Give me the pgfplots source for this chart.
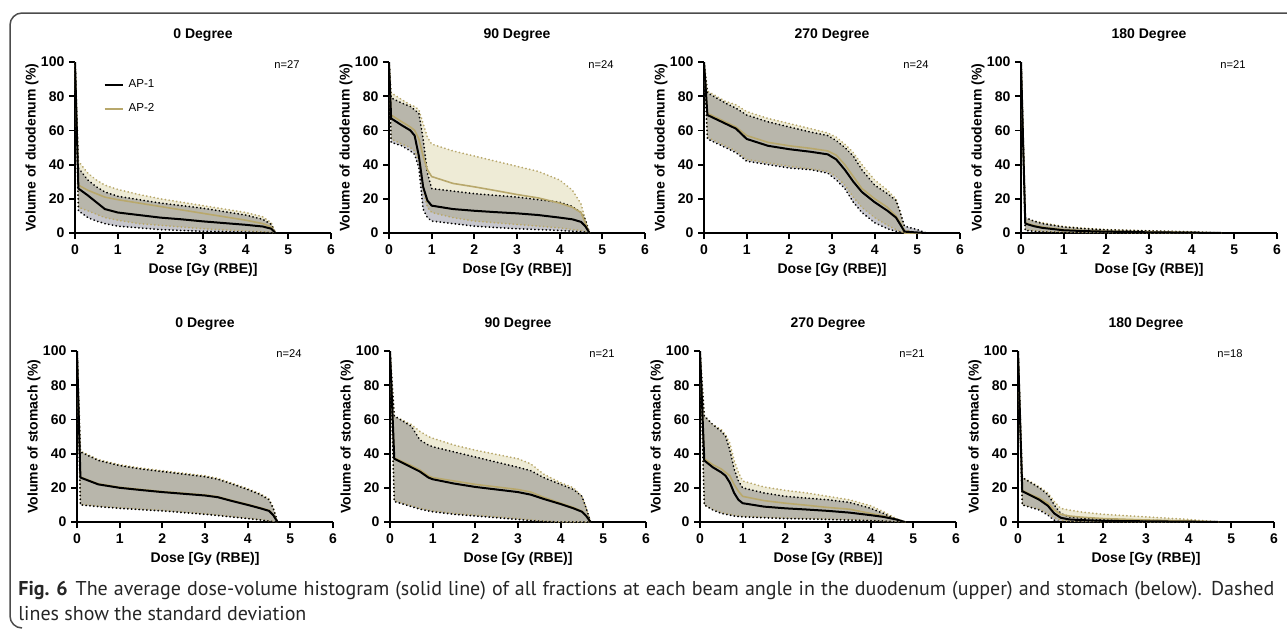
\documentclass[border=0pt]{standalone}
\usepackage{fontspec}
\setmainfont{Liberation Sans}
\newfontfamily\capfont{PT Sans}
\usepackage{pgfplots}
\pgfplotsset{compat=1.18}
\usepackage{pgfplotstable}

\definecolor{ap2line}{RGB}{184,168,108}
\definecolor{ap2fill}{RGB}{238,235,214}
\definecolor{ap1fill}{RGB}{198,198,204}
\definecolor{framecol}{gray}{0.3}

% columns: dose, AP-1 mean/upper/lower, AP-2 mean/upper/lower
\pgfplotstableread{
x     m1   u1   l1   m2   u2   l2
0     100  100  100  100  100  100
0.08  26   38   13   28   42   15
0.3   22   31   9    25   35   13
0.5   18   27   7    23   31   11
0.7   14   24   5.5  21   28   9
1.0   12   21.5 4    19.5 25.5 7.5
1.5   10.5 19.5 3    17.5 22.5 5.5
2.0   9    17.5 2    15.5 20   4.5
2.5   8    16   1.5  13.5 18   3.5
3.0   6.8  14.5 1    11.5 16   2.5
3.5   5.8  12.5 0.8  9.5  14   1.8
4.0   4.8  10.5 0.5  7.5  12   1.2
4.4   3.8  8    0.3  5.5  9.5  0.7
4.6   2.5  5    0.2  3.5  6    0.4
4.7   0    0    0    0    0    0
}\duoA

\pgfplotstableread{
x     m1   u1   l1   m2   u2   l2
0     100  100  100  100  100  100
0.05  67   79   53   69   82   55
0.3   63   76   51   65   78   52
0.5   60   74   48   62   75   50
0.6   57   72   46   60   74   48
0.7   45   70   38   55   72   42
0.8   27   55   14   45   64   25
0.9   19   35   9    37   56   15
1.0   16   26   7    33   52   12
1.5   14   24.5 5.5  29   48   9
2.0   13   23   4    27   45   7
2.5   12.2 22   3.2  24.8 42   6
3.0   11.5 21   2.5  22.5 39   5
3.5   10.5 19.5 2    20.5 36   4
4.0   9    18   1.5  17.5 31   3
4.3   8    15.5 1    15   25   2
4.5   6.5  12   0.8  12   17   1.5
4.6   4    8    0.5  6    8    0.8
4.7   0    0    0    0    0    0
}\duoB

\pgfplotstableread{
x     m1   u1   l1   m2   u2   l2
0     100  100  100  100  100  100
0.08  69   82   55   70   83   56
0.5   64   76   50   65   77   51
0.75  61   73   47   62   75   48
1.0   55   69   42   57   71   43
1.5   51   65   40   53   67   41
2.0   49   62   38   51   64   39
2.5   47.5 59   37   49.5 61   37.5
2.9   46   57   35   48   58.5 36
3.1   43   54   31   45.5 56   33
3.3   37   50   26   40   52   28
3.5   30   45   18   33   47   21
3.7   24   37   12   26   40   15
4.0   18   28   6    20   31   9
4.3   13   23   2.5  15   25   4.5
4.5   9    19   1    10   20   2
4.6   5    12   0.5  6    12   1
4.7   0.8  4    0    0    2    0
5.0   0.3  2    0    0    0    0
5.2   0    0    0    0    0    0
}\duoC

\pgfplotstableread{
x     m1   u1   l1   m2   u2   l2
0     100  100  100  100  100  100
0.1   5.5  9    1.5  6    8.5  2
0.3   4    7    1    4.5  7    1.5
0.5   3    5.5  0.6  3.5  6    1
1.0   1.6  3.5  0.2  2    3.8  0.5
1.5   1.1  2.5  0.1  1.4  2.8  0.3
2.0   0.8  1.8  0    1    2    0.2
3.0   0.4  1.2  0    0.6  1.3  0
4.0   0.2  0.6  0    0.3  0.7  0
4.7   0    0    0    0    0    0
}\duoD

\pgfplotstableread{
x     m1   u1   l1   m2   u2   l2
0     100  100  100  100  100  100
0.08  26   41   10   26.3 41.5 10.3
0.5   22   36   9    22.3 36.5 9.3
1.0   20   33   8    20.3 33.5 8.3
1.5   18.7 31   7.2  19   31.5 7.5
2.0   17.5 29.5 6.5  17.8 30   6.8
2.5   16.5 28   5.5  16.8 28.5 5.8
3.0   15.5 26.5 4.5  15.8 27   4.8
3.3   14.5 25   3.8  14.8 25.5 4
3.6   12.5 22.5 3    12.8 23   3.3
4.0   10   19   2    10.3 19.5 2.2
4.3   8    16   1.2  8.3  16.5 1.4
4.5   6.5  13   0.5  6.8  13.5 0.7
4.6   4    8    0.2  4.3  8.5  0.3
4.7   0    0    0    0    0    0
}\stoA

\pgfplotstableread{
x     m1   u1   l1   m2   u2   l2
0     100  100  100  100  100  100
0.1   37   62   12   37.5 62   12.5
0.5   32   56   9    33   57   9.5
0.7   29.5 48   7.5  30.5 53   8
0.9   26   45   6.5  27   50   7
1.0   25   44   6    26   49   6.5
1.5   22.5 41   4.5  24   45   5
2.0   20.5 38   3.5  22   42   4
2.5   19   35   2.5  20.5 39.5 3
3.0   17.5 32   1.5  19   37   2
3.3   16   30   0.8  17.5 34   1.2
3.6   13.5 26   0.3  14.5 28   0.5
4.0   10.5 22   0    11   23   0
4.3   8    19   0    8.5  20   0
4.5   6    15   0    6.3  15   0
4.6   3.5  8    0    3.7  8    0
4.7   0    0    0    0    0    0
}\stoB

\pgfplotstableread{
x     m1   u1   l1   m2   u2   l2
0     100  100  100  100  100  100
0.1   36   62   10   37   62   10
0.3   32   57   7    33.5 57   7.5
0.5   29   53   5    31   54   5.5
0.6   27   50   4.5  29   51   5
0.7   23   42   4    27   46   4.5
0.8   17   31   3.5  22   36   4
0.9   13   24   3.2  18   29   3.6
1.0   11   20   3    15   24   3.3
1.5   9    17   2.5  12.5 20.5 2.8
2.0   8    15   2    11   18.5 2.3
2.5   7.3  14   1.8  9.8  17   2
3.0   6.5  13   1.5  8.5  15   1.7
3.5   5.5  11.5 1.1  7.5  13   1.3
4.0   4    8    0.8  5    9.5  0.9
4.3   3    5    0.5  3.5  6    0.5
4.6   1.5  1.5  0.2  1.5  2    0.2
4.8   0    0    0    0    0    0
}\stoC

\pgfplotstableread{
x     m1   u1   l1   m2   u2   l2
0     100  100  100  100  100  100
0.1   18   26   10   18.5 26   10
0.3   15.5 23   8.5  16   23.5 8.8
0.5   13   20   7    14   20.5 7.5
0.7   9.5  16   4    11   17   5
0.85  5    10   1    7    12   2.5
1.0   2.5  5    0    4.5  8    1
1.2   1.5  3    0    3.5  7    0.5
1.5   1.1  2.2  0    2.8  5.8  0.3
2.0   0.7  1.5  0    2    4.5  0.2
3.0   0.4  1    0    1.2  3    0
4.0   0.2  0.5  0    0.6  1.5  0
4.7   0    0    0    0    0    0
}\stoD

\tikzset{lab/.style={font=\bfseries\fontsize{7}{8}\selectfont, anchor=center, inner sep=0pt}}
\pgfplotsset{
  dvh/.style={
    scale only axis, width=128pt, height=85.5pt, anchor=south west,
    xmin=0, xmax=6, ymin=0, ymax=100, clip mode=individual,
    xtick={0,1,...,6}, ytick={0,20,...,100},
    axis lines*=left, tick pos=left, axis line style={-, line width=0.9pt},
    tick style={line width=0.9pt, black}, tick align=outside, major tick length=3pt,
    /pgf/number format/assume math mode=true,
    tick label style={font=\bfseries\fontsize{7}{8}\selectfont},
    xticklabel style={yshift=0.5pt},
    yticklabel style={xshift=1.2pt},
    legend image code/.code={\draw[##1] (0pt,0pt) -- (9pt,0pt);},
  },
  bound1/.style={black, line width=0.9pt, dash pattern=on 0.1pt off 1.8pt, line cap=round},
  bound2/.style={ap2line, line width=0.9pt, dash pattern=on 0.1pt off 1.8pt, line cap=round},
}

% #1,#2 position, #3 angle, #4 organ, #5 n, #6 table, #7 AP-1 band, #8 AP-2 band, #9 extra options
\newcommand{\panel}[9]{%
\begin{axis}[dvh, at={(#1,#2)}, #9]
  \addplot[fill=ap2fill, draw=none, forget plot] coordinates {#8};
  \addplot[fill=ap1fill, draw=none, blend mode=multiply, forget plot] coordinates {#7};
  \addplot[bound2, forget plot] table[x=x,y=u2]{#6};
  \addplot[bound2, forget plot] table[x=x,y=l2]{#6};
  \addplot[bound1, forget plot] table[x=x,y=u1]{#6};
  \addplot[bound1, forget plot] table[x=x,y=l1]{#6};
  \addplot[ap2line, line width=0.8pt] table[x=x,y=m2]{#6};
  \addplot[black, line width=1pt] table[x=x,y=m1]{#6};
  \node[font=\fontsize{5.6}{6.5}\selectfont] at (axis cs:4.97,98.5) {n=#5};
  \node[lab] at (axis description cs:0.5,1.158) {#3 Degree};
  \node[lab] at (axis description cs:0.5,-0.216) {Dose [Gy (RBE)]};
  \node[lab, rotate=90] at (axis description cs:-0.168,0.5) {Volume of #4 (\%)};
\end{axis}}

\begin{document}
\begin{tikzpicture}
\path[use as bounding box] (0,0) rectangle (643.5pt,-316pt);
\draw[framecol, line width=0.75pt] (643.5pt,-6.5pt) -- (11pt,-6.5pt)
  arc[start angle=90, end angle=180, radius=6pt] -- (5pt,-308pt)
  arc[start angle=180, end angle=270, radius=6pt];

\panel{37.5pt}{-116.5pt}{0}{duodenum}{27}{\duoA}
  {(0,100)(0.08,38)(0.3,31)(0.5,27)(0.7,24)(1,21.5)(1.5,19.5)(2,17.5)(2.5,16)(3,14.5)(3.5,12.5)(4,10.5)(4.4,8)(4.6,5)(4.7,0)(4.6,0.2)(4.4,0.3)(4,0.5)(3.5,0.8)(3,1)(2.5,1.5)(2,2)(1.5,3)(1,4)(0.7,5.5)(0.5,7)(0.3,9)(0.08,13)}
  {(0,100)(0.08,42)(0.3,35)(0.5,31)(0.7,28)(1,25.5)(1.5,22.5)(2,20)(2.5,18)(3,16)(3.5,14)(4,12)(4.4,9.5)(4.6,6)(4.7,0)(4.6,0.4)(4.4,0.7)(4,1.2)(3.5,1.8)(3,2.5)(2.5,3.5)(2,4.5)(1.5,5.5)(1,7.5)(0.7,9)(0.5,11)(0.3,13)(0.08,15)}
  {legend entries={AP-2,AP-1}, reverse legend,
   legend style={at={(axis description cs:0.11,0.93)}, anchor=north west, draw=none, fill=none,
   font=\fontsize{5.8}{6.8}\selectfont, row sep=1.5pt, inner sep=0pt, nodes={inner sep=2.5pt}}}
\panel{194.5pt}{-116.5pt}{90}{duodenum}{24}{\duoB}
  {(0,100)(0.05,79)(0.3,76)(0.5,74)(0.6,72)(0.7,70)(0.8,55)(0.9,35)(1,26)(1.5,24.5)(2,23)(2.5,22)(3,21)(3.5,19.5)(4,18)(4.3,15.5)(4.5,12)(4.6,8)(4.7,0)(4.6,0.5)(4.5,0.8)(4.3,1)(4,1.5)(3.5,2)(3,2.5)(2.5,3.2)(2,4)(1.5,5.5)(1,7)(0.9,9)(0.8,14)(0.7,38)(0.6,46)(0.5,48)(0.3,51)(0.05,53)}
  {(0,100)(0.05,82)(0.3,78)(0.5,75)(0.6,74)(0.7,72)(0.8,64)(0.9,56)(1,52)(1.5,48)(2,45)(2.5,42)(3,39)(3.5,36)(4,31)(4.3,25)(4.5,17)(4.6,8)(4.7,0)(4.6,0.8)(4.5,1.5)(4.3,2)(4,3)(3.5,4)(3,5)(2.5,6)(2,7)(1.5,9)(1,12)(0.9,15)(0.8,25)(0.7,42)(0.6,48)(0.5,50)(0.3,52)(0.05,55)}
  {}
\panel{352pt}{-116.5pt}{270}{duodenum}{24}{\duoC}
  {(0,100)(0.08,82)(0.5,76)(0.75,73)(1,69)(1.5,65)(2,62)(2.5,59)(2.9,57)(3.1,54)(3.3,50)(3.5,45)(3.7,37)(4,28)(4.3,23)(4.5,19)(4.6,12)(4.7,4)(5,2)(5.2,0)(5,0)(4.7,0)(4.6,0.5)(4.5,1)(4.3,2.5)(4,6)(3.7,12)(3.5,18)(3.3,26)(3.1,31)(2.9,35)(2.5,37)(2,38)(1.5,40)(1,42)(0.75,47)(0.5,50)(0.08,55)}
  {(0,100)(0.08,83)(0.5,77)(0.75,75)(1,71)(1.5,67)(2,64)(2.5,61)(2.9,58.5)(3.1,56)(3.3,52)(3.5,47)(3.7,40)(4,31)(4.3,25)(4.5,20)(4.6,12)(4.7,2)(5,0)(4.7,0)(4.6,1)(4.5,2)(4.3,4.5)(4,9)(3.7,15)(3.5,21)(3.3,28)(3.1,33)(2.9,36)(2.5,37.5)(2,39)(1.5,41)(1,43)(0.75,48)(0.5,51)(0.08,56)}
  {}
\panel{510.5pt}{-116.5pt}{180}{duodenum}{21}{\duoD}
  {(0,100)(0.1,9)(0.3,7)(0.5,5.5)(1,3.5)(1.5,2.5)(2,1.8)(3,1.2)(4,0.6)(4.7,0)(4,0)(3,0)(2,0)(1.5,0.1)(1,0.2)(0.5,0.6)(0.3,1)(0.1,1.5)}
  {(0,100)(0.1,8.5)(0.3,7)(0.5,6)(1,3.8)(1.5,2.8)(2,2)(3,1.3)(4,0.7)(4.7,0)(4,0)(3,0)(2,0.2)(1.5,0.3)(1,0.5)(0.5,1)(0.3,1.5)(0.1,2)}
  {}

\panel{38.5pt}{-261pt}{0}{stomach}{24}{\stoA}
  {(0,100)(0.08,41)(0.5,36)(1,33)(1.5,31)(2,29.5)(2.5,28)(3,26.5)(3.3,25)(3.6,22.5)(4,19)(4.3,16)(4.5,13)(4.6,8)(4.7,0)(4.6,0.2)(4.5,0.5)(4.3,1.2)(4,2)(3.6,3)(3.3,3.8)(3,4.5)(2.5,5.5)(2,6.5)(1.5,7.2)(1,8)(0.5,9)(0.08,10)}
  {(0,100)(0.08,41.5)(0.5,36.5)(1,33.5)(1.5,31.5)(2,30)(2.5,28.5)(3,27)(3.3,25.5)(3.6,23)(4,19.5)(4.3,16.5)(4.5,13.5)(4.6,8.5)(4.7,0)(4.6,0.3)(4.5,0.7)(4.3,1.4)(4,2.2)(3.6,3.3)(3.3,4)(3,4.8)(2.5,5.8)(2,6.8)(1.5,7.5)(1,8.3)(0.5,9.3)(0.08,10.3)}
  {}
\panel{195pt}{-261pt}{90}{stomach}{21}{\stoB}
  {(0,100)(0.1,62)(0.5,56)(0.7,48)(0.9,45)(1,44)(1.5,41)(2,38)(2.5,35)(3,32)(3.3,30)(3.6,26)(4,22)(4.3,19)(4.5,15)(4.6,8)(4.7,0)(4,0)(3.6,0.3)(3.3,0.8)(3,1.5)(2.5,2.5)(2,3.5)(1.5,4.5)(1,6)(0.9,6.5)(0.7,7.5)(0.5,9)(0.1,12)}
  {(0,100)(0.1,62)(0.5,57)(0.7,53)(0.9,50)(1,49)(1.5,45)(2,42)(2.5,39.5)(3,37)(3.3,34)(3.6,28)(4,23)(4.3,20)(4.5,15)(4.6,8)(4.7,0)(4,0)(3.6,0.5)(3.3,1.2)(3,2)(2.5,3)(2,4)(1.5,5)(1,6.5)(0.9,7)(0.7,8)(0.5,9.5)(0.1,12.5)}
  {}
\panel{350pt}{-261pt}{270}{stomach}{21}{\stoC}
  {(0,100)(0.1,62)(0.3,57)(0.5,53)(0.6,50)(0.7,42)(0.8,31)(0.9,24)(1,20)(1.5,17)(2,15)(2.5,14)(3,13)(3.5,11.5)(4,8)(4.3,5)(4.6,1.5)(4.8,0)(4.6,0.2)(4.3,0.5)(4,0.8)(3.5,1.1)(3,1.5)(2.5,1.8)(2,2)(1.5,2.5)(1,3)(0.9,3.2)(0.8,3.5)(0.7,4)(0.6,4.5)(0.5,5)(0.3,7)(0.1,10)}
  {(0,100)(0.1,62)(0.3,57)(0.5,54)(0.6,51)(0.7,46)(0.8,36)(0.9,29)(1,24)(1.5,20.5)(2,18.5)(2.5,17)(3,15)(3.5,13)(4,9.5)(4.3,6)(4.6,2)(4.8,0)(4.6,0.2)(4.3,0.5)(4,0.9)(3.5,1.3)(3,1.7)(2.5,2)(2,2.3)(1.5,2.8)(1,3.3)(0.9,3.6)(0.8,4)(0.7,4.5)(0.6,5)(0.5,5.5)(0.3,7.5)(0.1,10)}
  {}
\panel{509pt}{-261pt}{180}{stomach}{18}{\stoD}
  {(0,100)(0.1,26)(0.3,23)(0.5,20)(0.7,16)(0.85,10)(1,5)(1.2,3)(1.5,2.2)(2,1.5)(3,1)(4,0.5)(4.7,0)(1,0)(0.85,1)(0.7,4)(0.5,7)(0.3,8.5)(0.1,10)}
  {(0,100)(0.1,26)(0.3,23.5)(0.5,20.5)(0.7,17)(0.85,12)(1,8)(1.2,7)(1.5,5.8)(2,4.5)(3,3)(4,1.5)(4.7,0)(3,0)(2,0.2)(1.5,0.3)(1.2,0.5)(1,1)(0.85,2.5)(0.7,5)(0.5,7.5)(0.3,8.8)(0.1,10)}
  {}

\node[anchor=base west, inner sep=0pt, font=\capfont\fontsize{10}{12}\selectfont, text=black!85]
  at (9pt,-297.5pt) {\makebox[628pt][s]{\mbox{\textbf{Fig. 6}}\kern 4pt The average dose-volume histogram (solid line) of all fractions at each beam angle in the duodenum (upper) and stomach (below). Dashed}};
\node[anchor=base west, inner sep=0pt, font=\capfont\fontsize{10}{12}\selectfont, text=black!85]
  at (9pt,-310pt) {lines show the standard deviation};
\end{tikzpicture}
\end{document}
